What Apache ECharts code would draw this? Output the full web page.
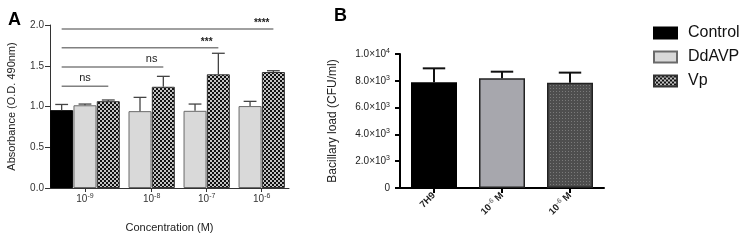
<!DOCTYPE html>
<html>
<head>
<meta charset="utf-8">
<script src="https://cdn.jsdelivr.net/npm/echarts@6/dist/echarts.min.js"></script>
<style>
  html, body { margin: 0; padding: 0; background: #fff; }
  #chart { width: 746px; height: 241px; }
</style>
</head>
<body>
<div id="chart"></div>
<script>
// ---- panel A: absorbance per concentration ----
const concExp = ['-9', '-8', '-7', '-6']
const controlA = [0.955, null, null, null]
const controlTopA = [1.025, null, null, null]
const ddavpA = [1.015, 0.943, 0.947, 1.005]
const ddavpTopA = [1.03, 1.112, 1.03, 1.063]
const vpA = [1.065, 1.242, 1.395, 1.423]
const vpTopA = [1.08, 1.37, 1.653, 1.439]

// significance brackets: Control vs Vp at each concentration
const sigGroup = [0, 1, 2, 3]
const sigLevel = [1.25, 1.485, 1.72, 1.95]
const sigText = ['ns', 'ns', '***', '****']

// ---- panel B: bacillary load ----
const categoriesB = ['7H9', '10^-6 M', '10^-6 M']
const loadB = [7890, 8190, 7860]
const loadTopB = [8930, 8680, 8610]

const FONT = '"Liberation Sans", Arial, sans-serif'
const GAP = 0.36   // space between groups, in bar widths
const XMAX = 10.25

function pattern(size, base, dot, cells) {
  const cv = document.createElement('canvas')
  cv.width = cv.height = size
  const ctx = cv.getContext('2d')
  ctx.fillStyle = base
  ctx.fillRect(0, 0, size, size)
  ctx.fillStyle = dot
  cells.forEach(c => ctx.fillRect(c[0], c[1], c[2], c[2]))
  return { image: cv, repeat: 'repeat' }
}
const checkA = pattern(4, '#c4c4c4', '#111', [[0, 0, 2], [2, 2, 2]])
const dotsB = pattern(3, '#4e4e4e', '#7a7a7a', [[1, 1, 1]])

// bar positions along the hidden value axis of panel A
const seriesVals = { Control: controlA, DdAVP: ddavpA, Vp: vpA }
const seriesTops = { Control: controlTopA, DdAVP: ddavpTopA, Vp: vpTopA }
const barsA = { Control: [], DdAVP: [], Vp: [] }
const errA = []
const groupCenters = []
const vpCenters = []
let controlCenter = 0
let slot = 0
concExp.forEach((c, g) => {
  const start = slot
  ;['Control', 'DdAVP', 'Vp'].forEach(name => {
    const v = seriesVals[name][g]
    if (v == null) return
    const x = slot + 0.5 + g * GAP
    barsA[name].push([x, v])
    errA.push([x, v, seriesTops[name][g]])
    if (name === 'Vp') vpCenters[g] = x
    if (name === 'Control' && g === 0) controlCenter = x
    slot++
  })
  groupCenters.push((start + slot) / 2 + g * GAP)
})
const sigData = sigGroup.map((g, i) => [controlCenter, vpCenters[g], sigLevel[i], groupCenters[g], i])

function supLabel(str) {
  // "10^-6 M" -> rich text with superscript
  const m = str.match(/^(.*?)\^(-?\d+)(.*)$/)
  if (!m) return '{b|' + str + '}'
  return '{b|' + m[1] + '}{s|' + m[2] + '}' + (m[3] ? '{b|' + m[3] + '}' : '')
}

// capFrac: cap width as a share of one x unit (value axis) or one band (category axis)
function errorBar(capFrac, color, width) {
  return function (params, api) {
    const x = api.value(0)
    const p0 = api.coord([x, api.value(1)])
    const p1 = api.coord([x, api.value(2)])
    const half = api.size([1, 0])[0] * capFrac / 2
    const style = { stroke: color, lineWidth: width }
    return {
      type: 'group',
      children: [
        { type: 'line', shape: { x1: p0[0], y1: p0[1], x2: p1[0], y2: p1[1] }, style },
        { type: 'line', shape: { x1: p1[0] - half, y1: p1[1], x2: p1[0] + half, y2: p1[1] }, style },
      ],
    }
  }
}

var myChart = echarts.init(document.getElementById('chart'))
var option = {
  backgroundColor: '#fff',
  animation: false,
  textStyle: { fontFamily: FONT },
  title: [
    { text: 'A', left: 3, top: 6, textStyle: { fontSize: 18, fontWeight: 'bold', color: '#000', fontFamily: FONT } },
    { text: 'B', left: 329, top: 2, textStyle: { fontSize: 18, fontWeight: 'bold', color: '#000', fontFamily: FONT } },
  ],
  legend: {
    data: ['Control', 'DdAVP', 'Vp'],
    orient: 'vertical',
    left: 648,
    top: 20,
    icon: 'rect',
    itemWidth: 23,
    itemHeight: 11,
    itemGap: 8,
    textStyle: { fontSize: 16, color: '#111', fontFamily: FONT, padding: [0, 0, 0, 6] },
  },
  grid: [
    { left: 50, top: 25, width: 239, height: 163, outerBoundsMode: 'none' },
    { left: 400, top: 54, width: 204, height: 134, outerBoundsMode: 'none' },
  ],
  xAxis: [
    {
      type: 'value',
      gridIndex: 0,
      min: 0,
      max: XMAX,
      splitLine: { show: false },
      axisLine: { show: true, lineStyle: { color: '#333', width: 1 } },
      axisTick: { show: true, length: 4, customValues: groupCenters, lineStyle: { color: '#333' } },
      axisLabel: {
        customValues: groupCenters,
        margin: 5,
        formatter: function (v) {
          const g = groupCenters.findIndex(c => Math.abs(c - v) < 1e-6)
          return g < 0 ? '' : supLabel('10^' + concExp[g])
        },
        rich: {
          b: { fontSize: 10, color: '#333', lineHeight: 13, fontFamily: FONT },
          s: { fontSize: 7, color: '#333', lineHeight: 8, verticalAlign: 'top', fontFamily: FONT },
        },
      },
      name: 'Concentration (M)',
      nameLocation: 'middle',
      nameGap: 34,
      nameTextStyle: { fontSize: 11, color: '#222', fontFamily: FONT },
    },
    {
      type: 'category',
      gridIndex: 1,
      data: categoriesB,
      axisLine: { show: true, lineStyle: { color: '#000', width: 2 } },
      axisTick: { show: true, alignWithLabel: true, length: 5, lineStyle: { color: '#000', width: 2 } },
      axisLabel: {
        interval: 0,
        rotate: 45,
        margin: 6,
        formatter: function (v, i) { return supLabel(categoriesB[i]) },
        rich: {
          b: { fontSize: 9.5, fontWeight: 'bold', color: '#222', lineHeight: 12, fontFamily: FONT },
          s: { fontSize: 7, fontWeight: 'bold', color: '#8a8a8a', lineHeight: 8, verticalAlign: 'top', fontFamily: FONT },
        },
      },
    },
  ],
  yAxis: [
    {
      type: 'value',
      gridIndex: 0,
      min: 0,
      max: 2,
      interval: 0.5,
      splitLine: { show: false },
      axisLine: { show: true, lineStyle: { color: '#333', width: 1 } },
      axisTick: { show: true, length: 5, lineStyle: { color: '#333' } },
      axisLabel: { fontSize: 10, color: '#333', margin: 6, formatter: v => v.toFixed(1) },
      name: 'Absorbance (O.D. 490nm)',
      nameLocation: 'middle',
      nameGap: 33,
      nameTextStyle: { fontSize: 11, color: '#222', fontFamily: FONT },
    },
    {
      type: 'value',
      gridIndex: 1,
      min: 0,
      max: 10000,
      interval: 2000,
      splitLine: { show: false },
      axisLine: { show: true, lineStyle: { color: '#000', width: 2 } },
      axisTick: { show: true, length: 5, lineStyle: { color: '#000', width: 2 } },
      axisLabel: {
        margin: 10,
        formatter: function (v) {
          if (v === 0) return '{b|0}'
          const e = Math.floor(Math.log10(v) + 1e-9)
          return supLabel((v / Math.pow(10, e)).toFixed(1) + '×10^' + e)
        },
        rich: {
          b: { fontSize: 10, color: '#222', lineHeight: 13, fontFamily: FONT },
          s: { fontSize: 7, color: '#222', lineHeight: 8, verticalAlign: 'top', fontFamily: FONT },
        },
      },
      name: 'Bacillary load (CFU/ml)',
      nameLocation: 'middle',
      nameGap: 61,
      nameTextStyle: { fontSize: 12, color: '#222', fontFamily: FONT },
    },
  ],
  series: [
    {
      name: 'Control',
      type: 'bar',
      xAxisIndex: 0,
      yAxisIndex: 0,
      barWidth: 23,
      barGap: '-100%',
      itemStyle: { color: '#000', borderColor: '#000', borderWidth: 1 },
      data: barsA.Control,
    },
    {
      name: 'DdAVP',
      type: 'bar',
      xAxisIndex: 0,
      yAxisIndex: 0,
      barWidth: 23,
      barGap: '-100%',
      itemStyle: { color: '#d9d9d9', borderColor: '#6a6a6a', borderWidth: 1 },
      data: barsA.DdAVP,
    },
    {
      name: 'Vp',
      type: 'bar',
      xAxisIndex: 0,
      yAxisIndex: 0,
      barWidth: 23,
      barGap: '-100%',
      itemStyle: { color: checkA, borderColor: '#333', borderWidth: 1 },
      data: barsA.Vp,
    },
    {
      type: 'custom',
      xAxisIndex: 0,
      yAxisIndex: 0,
      renderItem: errorBar(0.55, '#444', 1.3),
      data: errA,
      z: 5,
    },
    {
      // significance brackets
      type: 'custom',
      xAxisIndex: 0,
      yAxisIndex: 0,
      renderItem: function (params, api) {
        const a = api.coord([api.value(0), api.value(2)])
        const b = api.coord([api.value(1), api.value(2)])
        const t = api.coord([api.value(3), api.value(2)])
        const txt = sigText[api.value(4)]
        const star = txt.charAt(0) === '*'
        return {
          type: 'group',
          children: [
            { type: 'line', shape: { x1: a[0], y1: a[1], x2: b[0], y2: b[1] }, style: { stroke: '#808080', lineWidth: 1.5 } },
            {
              type: 'text',
              style: {
                text: txt,
                x: t[0],
                y: a[1] - (star ? 1 : 3),
                align: 'center',
                verticalAlign: 'bottom',
                fill: '#222',
                font: (star ? 'bold 10px ' : '11px ') + FONT,
              },
            },
          ],
        }
      },
      data: sigData,
      z: 6,
    },
    {
      name: 'load',
      type: 'bar',
      xAxisIndex: 1,
      yAxisIndex: 1,
      barWidth: 46,
      data: [
        { value: loadB[0], itemStyle: { color: '#000', borderColor: '#000', borderWidth: 1.5 } },
        { value: loadB[1], itemStyle: { color: '#a7a7ad', borderColor: '#222', borderWidth: 1.5 } },
        { value: loadB[2], itemStyle: { color: dotsB, borderColor: '#222', borderWidth: 1.5 } },
      ],
    },
    {
      type: 'custom',
      xAxisIndex: 1,
      yAxisIndex: 1,
      renderItem: errorBar(0.33, '#111', 2),
      data: loadB.map((v, i) => [i, v, loadTopB[i]]),
      z: 5,
    },
  ],
}

option && myChart.setOption(option)
window.addEventListener('resize', function () {
  myChart.resize()
})
</script>
</body>
</html>
